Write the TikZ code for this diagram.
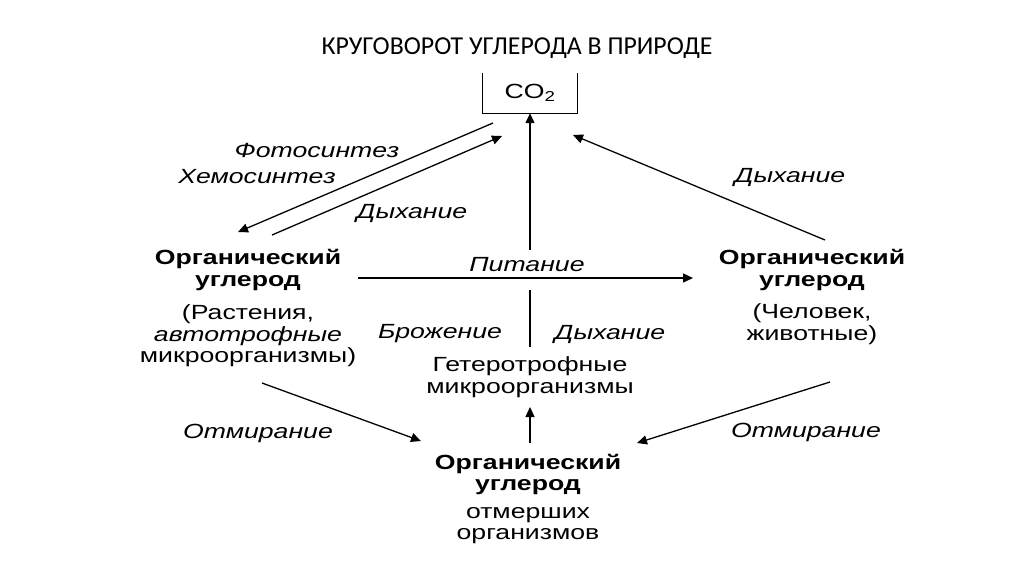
\documentclass[tikz,border=0pt]{standalone}
\usepackage{fontspec}
\setmainfont{Liberation Sans}[FakeStretch=1.3]
\newfontfamily\titlefont{Carlito}
\usepackage{tikz}
\usetikzlibrary{positioning, arrows.meta}

\begin{document}
\begin{tikzpicture}[
    x=1pt, y=-1pt,
    block/.style={align=center, inner sep=0pt, font=\fontsize{20.5}{21.5}\selectfont},
    lbl/.style={inner sep=0pt, font=\fontsize{20.5}{22}\selectfont\itshape},
    arrow/.style={-{Triangle[length=10pt, width=9pt]}, line width=1.3pt},
    link/.style={line width=1.3pt}
]
\useasboundingbox (0,0) rectangle (1024,574);

\node[font=\titlefont\fontsize{25.8}{28}\selectfont] (title) at (517,48) {КРУГОВОРОТ УГЛЕРОДА В ПРИРОДЕ};

% CO2 box, open at the top
\node[minimum width=94pt, minimum height=40pt, font=\fontsize{20.5}{22}\selectfont] (co2) at (530,93) {CO\textsubscript{2}};
\draw[line width=1.1pt] (co2.north west) -- (co2.south west) -- (co2.south east) -- (co2.north east);

\node[block] (plants) at (248,308) {\textbf{Органический}\\\textbf{углерод}\\[12pt](Растения,\\\textit{автотрофные}\\микроорганизмы)};
\node[block] (animals) at (812,297) {\textbf{Органический}\\\textbf{углерод}\\[11pt](Человек,\\животные)};
\node[block] (dead) at (528,499) {\textbf{Органический}\\\textbf{углерод}\\[6pt]отмерших\\организмов};
\node[block] (hetero) at (530,377) {Гетеротрофные\\микроорганизмы};

\coordinate (gapB) at (530,290);
\coordinate (gapT) at (530,250);

% arrows
\draw[arrow] ([shift={(-37,30)}]co2.center) -- ([shift={(-10,-76)}]plants.center);
\draw[arrow] ([shift={(24,-73)}]plants.center) -- ([shift={(-28,43)}]co2.center);
\draw[arrow] (gapT) -- (co2.south);
\draw[link] ([shift={(0,-30)}]hetero.center) -- (gapB);
\draw[arrow] ([shift={(110,-30)}]plants.center) -- ([shift={(-119,-19)}]animals.center);
\draw[arrow] ([shift={(13,-57)}]animals.center) -- ([shift={(43,42)}]co2.center);
\draw[arrow] ([shift={(14,75)}]plants.center) -- ([shift={(-107,-58)}]dead.center);
\draw[arrow] ([shift={(18,85)}]animals.center) -- ([shift={(109,-56)}]dead.center);
\draw[arrow] ([shift={(2,-56)}]dead.center) -- ([shift={(0,30)}]hetero.center);

% labels
\node[lbl] (l_photo) at (317,150) {Фотосинтез};
\node[lbl] (l_chemo) at (257,177) {Хемосинтез};
\node[lbl] (l_resp1) at (412,213) {Дыхание};
\node[lbl] (l_resp2) at (790,177) {Дыхание};
\node[lbl] (l_food) at (527,265) {Питание};
\node[lbl] (l_ferm) at (440,334) {Брожение};
\node[lbl] (l_resp3) at (610,334) {Дыхание};
\node[lbl] (l_death1) at (258,433) {Отмирание};
\node[lbl] (l_death2) at (806,432) {Отмирание};

\end{tikzpicture}
\end{document}
